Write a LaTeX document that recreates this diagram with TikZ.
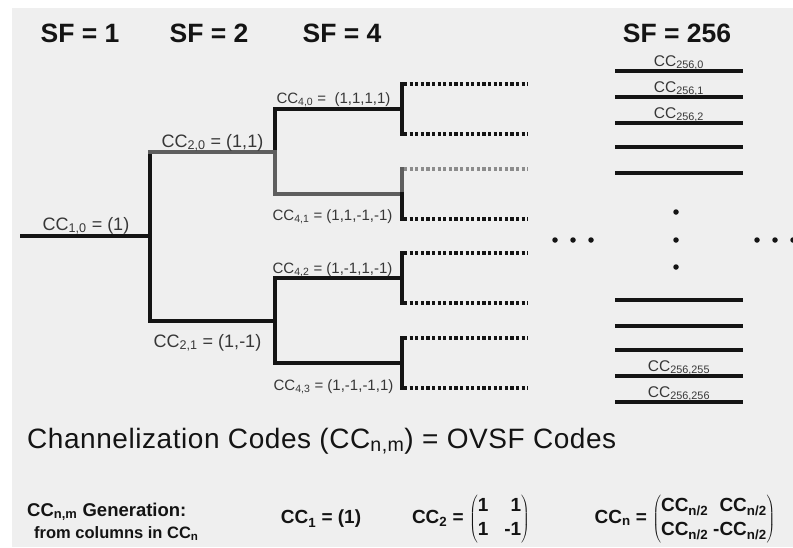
\documentclass[tikz,border=0pt]{standalone}
\usepackage{fontspec}
\setmainfont{Liberation Sans}
\newfontfamily\ttlfont[LetterSpace=2]{Liberation Sans}
\usetikzlibrary{positioning,calc}
\definecolor{ovsfpanel}{HTML}{EFEFEF}
\definecolor{ovsfink}{HTML}{141414}
\definecolor{ovsfgrey}{HTML}{5E5E5E}
\definecolor{ovsfdot}{HTML}{8C8C8C}
\newcommand{\ccode}[1]{CC\textsubscript{#1}}
\tikzset{
  br/.style={line width=3.6pt, color=ovsfink, line cap=rect},
  brg/.style={br, color=ovsfgrey},
  leaf/.style={line width=3.2pt, color=ovsfink, dash pattern=on 3.2pt off 2.4pt},
  leafg/.style={leaf, color=ovsfdot},
  code/.style={line width=3.6pt, color=ovsfink},
  sf/.style={font=\fontsize{26.5}{30}\selectfont\bfseries, text=ovsfink},
  lbl/.style={font=\fontsize{18}{20}\selectfont, text=ovsfink!85, inner sep=0pt, anchor=base},
  lbls/.style={lbl, font=\fontsize{15}{17}\selectfont},
  cl/.style={font=\fontsize{15.5}{17}\selectfont, text=ovsfink!85, inner sep=0pt, anchor=base},
  dot/.style={circle, fill=ovsfink, inner sep=0pt, minimum size=5.5pt},
  ttl/.style={font=\fontsize{28}{31}\selectfont\ttlfont, text=ovsfink, anchor=base west, inner sep=0pt},
  gen/.style={font=\fontsize{18.5}{20}\selectfont\bfseries, text=ovsfink, anchor=base west, inner sep=0pt},
  gens/.style={gen, font=\fontsize{16.5}{18}\selectfont\bfseries},
  frm/.style={font=\fontsize{19}{21}\selectfont\bfseries, text=ovsfink, inner sep=0pt},
}

\begin{document}
\begin{tikzpicture}[x=1pt, y=-1pt]
  \fill[white] (0,0) rectangle (793,547);
  \fill[ovsfpanel] (12,8) rectangle (793,547);
  \useasboundingbox (0,0) rectangle (793,547);

  \node[sf] (sf1) at (80,33) {SF = 1};
  \node[sf] (sf2) at (209,33) {SF = 2};
  \node[sf] (sf4) at (342,33) {SF = 4};
  \node[sf] (sf256) at (677,33) {SF = 256};

  \coordinate (root) at (22,236);
  \coordinate (j1) at (150,236);
  \coordinate (n20) at (150,152);
  \coordinate (n21) at (150,321);
  \coordinate (j20) at (275,152);
  \coordinate (j21) at (275,321);
  \foreach \k/\y in {0/109,1/194,2/278,3/363} {
    \coordinate (n4\k) at (275,\y);
    \coordinate (j4\k) at (402,\y);
  }
  \foreach \k/\y in {0/84,1/134,2/169,3/219,4/253,5/303,6/338,7/388} {
    \coordinate (lf\k) at (402,\y);
    \coordinate (le\k) at (528,\y);
  }

  \foreach \k in {0,1,3,4,5,6,7} \draw[leaf] ([xshift=2pt]lf\k) -- (le\k);
  \draw[leafg] ([xshift=2pt]lf2) -- (le2);

  \draw[br] (root) -- (j1) node[lbl, midway, yshift=6pt] {\ccode{1,0} = (1)};
  \draw[br] (n20) -- (n21);
  \draw[brg] (n20) -- (j20) node[lbl, midway, yshift=5pt] {\ccode{2,0} = (1,1)};
  \draw[br] (n21) -- (j21) node[lbl, midway, xshift=-5pt, yshift=-26pt] {\ccode{2,1} = (1,-1)};
  \draw[br] (n40) -- (j20);
  \draw[brg] (j20) -- (n41);
  \draw[br] (n42) -- (n43);
  \draw[br] (n40) -- (j40) node[lbls, midway, xshift=-5pt, yshift=6pt] {\ccode{4,0} = \ (1,1,1,1)};
  \draw[brg] (n41) -- (j41) node[lbls, midway, xshift=-6pt, yshift=-26pt] {\ccode{4,1} = (1,1,-1,-1)};
  \draw[br] (n42) -- (j42) node[lbls, midway, xshift=-6pt, yshift=5pt] {\ccode{4,2} = (1,-1,1,-1)};
  \draw[br] (n43) -- (j43) node[lbls, midway, xshift=-5pt, yshift=-27pt] {\ccode{4,3} = (1,-1,-1,1)};
  \draw[br] (lf0) -- (lf1);
  \draw[brg] (lf2) -- (j41);
  \draw[br] (j41) -- (lf3);
  \draw[br] (lf4) -- (lf5);
  \draw[br] (lf6) -- (lf7);

  \foreach \x [count=\i] in {555,573,591} \node[dot] (hl\i) at (\x,240) {};
  \foreach \x [count=\i] in {757,775,793} \node[dot] (hr\i) at (\x,240) {};
  \foreach \y [count=\i] in {212,240,267} \node[dot] (vd\i) at (676,\y) {};

  \foreach \y [count=\i] in {71,97,123,147,173,300,326,350,376,402} {
    \coordinate (ca\i) at (615,\y);
    \coordinate (cb\i) at (743,\y);
    \draw[code] (ca\i) -- (cb\i);
  }
  \foreach \i/\m in {1/0,2/1,3/2,9/255,10/256}
    \node[cl, yshift=5pt] (cl\i) at ($(ca\i)!0.5!(cb\i)$) {\ccode{256,\m}};

  \node[ttl] (title) at (27,448) {Channelization Codes (\ccode{n,m}) = OVSF Codes};
  \node[gen] (gen) at (27,516) {\ccode{n,m} Generation:};
  \node[gens] (from) at (34,538) {from columns in \ccode{n}};
  \node[frm] (cc1) at (321,519) {\ccode{1} = (1)};
  \node[frm] (cc2) at (471,519) {\ccode{2} = $\left(\renewcommand{\arraystretch}{1.15}\begin{tabular}{@{}c@{\hspace{16pt}}r@{}}1 & 1\\ 1 & -1\end{tabular}\right)$};
  \node[frm] (ccn) at (685,519) {\ccode{n} = $\left(\renewcommand{\arraystretch}{1.15}\begin{tabular}{@{}l@{\hspace{5pt}}r@{}}\ccode{n/2} & \ccode{n/2}\\ \ccode{n/2} & -\ccode{n/2}\end{tabular}\right)$};
\end{tikzpicture}
\end{document}
